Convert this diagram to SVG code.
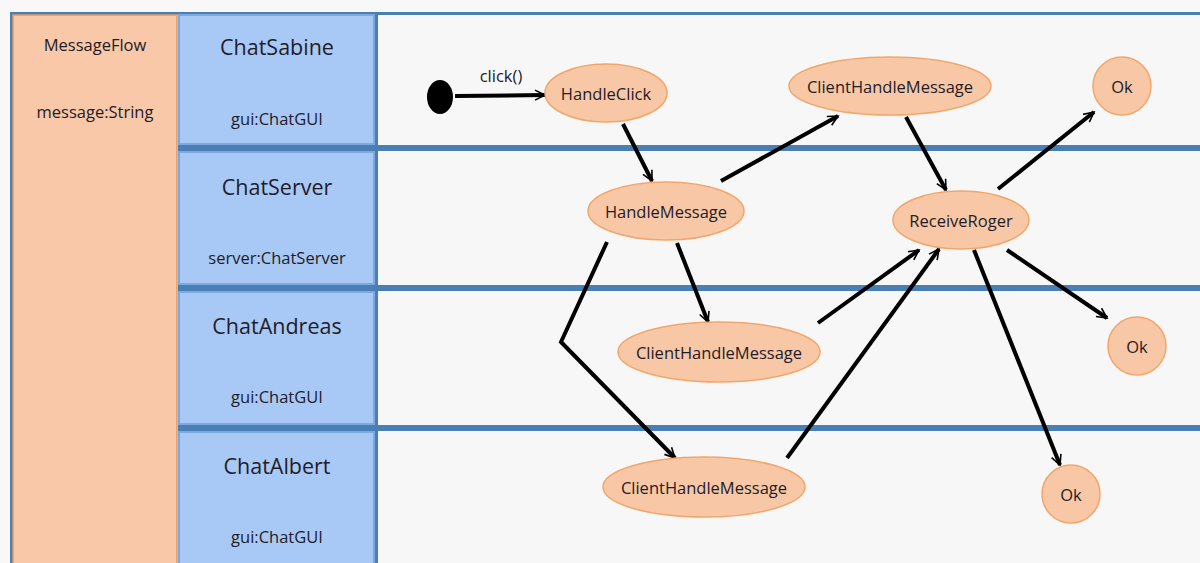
<svg xmlns="http://www.w3.org/2000/svg" width="1200" height="563" viewBox="0 0 1200 563">
<defs>
<style>
.lbl{font-family:"Open Sans","Noto Sans","Liberation Sans",sans-serif;fill:#231c28;text-anchor:middle;dominant-baseline:central}
.title{font-size:21.5px}
.sub{font-size:16.5px}
.nodeT{font-size:16.5px}
.node{fill:#f8c8a6;stroke:#f2a66a;stroke-width:1.5}
.hdr{fill:#a8c8f5;stroke:#7ea8e0;stroke-width:2}
.sep{fill:#4a7fb6}
.edge{fill:none;stroke:#000;stroke-width:4;marker-end:url(#arr)}
</style>
<marker id="arr" markerUnits="userSpaceOnUse" markerWidth="14" markerHeight="12" viewBox="0 0 14 12" refX="12" refY="6" orient="auto">
<path d="M2,1 L12,6 L2,11" fill="none" stroke="#000" stroke-width="1.6"/>
</marker>
</defs>
<rect x="0" y="0" width="1200" height="563" fill="#f8f8f8"/>
<g id="frame">
<rect x="378" y="15" width="822" height="548" fill="#f7f7f7"/>
<rect x="10" y="12" width="1190" height="3" class="sep"/>
<rect x="10" y="12" width="3" height="551" class="sep"/>
<rect x="375" y="12" width="3" height="551" class="sep"/>
<rect x="178" y="145" width="1022" height="6" class="sep"/>
<rect x="178" y="285" width="1022" height="6" class="sep"/>
<rect x="178" y="425" width="1022" height="6" class="sep"/>
</g>
<g id="classBox">
<rect x="13" y="15" width="164" height="560" fill="#f8c8a8" stroke="#e39a5e" stroke-width="1.5"/>
<text class="lbl sub" x="95" y="44">MessageFlow</text>
<text class="lbl sub" x="95" y="111">message:String</text>
</g>
<g id="laneSabine">
<rect class="hdr" x="179" y="15" width="195" height="129"/>
<text class="lbl title" x="277" y="46">ChatSabine</text>
<text class="lbl sub" x="277" y="118">gui:ChatGUI</text>
</g>
<g id="laneServer">
<rect class="hdr" x="179" y="152" width="195" height="132"/>
<text class="lbl title" x="277" y="186">ChatServer</text>
<text class="lbl sub" x="277" y="257">server:ChatServer</text>
</g>
<g id="laneAndreas">
<rect class="hdr" x="179" y="292" width="195" height="132"/>
<text class="lbl title" x="277" y="325">ChatAndreas</text>
<text class="lbl sub" x="277" y="396">gui:ChatGUI</text>
</g>
<g id="laneAlbert">
<rect class="hdr" x="179" y="432" width="195" height="140"/>
<text class="lbl title" x="277" y="465">ChatAlbert</text>
<text class="lbl sub" x="277" y="536">gui:ChatGUI</text>
</g>
<g id="connectors">
<line class="edge" x1="455" y1="96" x2="545" y2="95"/>
<text class="lbl sub" x="501" y="75">click()</text>
<line class="edge" x1="623" y1="124" x2="652" y2="181"/>
<line class="edge" x1="721" y1="181" x2="838" y2="116"/>
<line class="edge" x1="906" y1="117" x2="946" y2="190"/>
<line class="edge" x1="998" y1="189" x2="1094" y2="112"/>
<line class="edge" x1="677" y1="243" x2="708" y2="322"/>
<polyline class="edge" points="607,242 561,342 675,458"/>
<line class="edge" x1="818" y1="323" x2="919" y2="250"/>
<line class="edge" x1="787" y1="458" x2="939" y2="249"/>
<line class="edge" x1="1007" y1="250" x2="1107" y2="318"/>
<line class="edge" x1="974" y1="250" x2="1060" y2="465"/>
</g>
<g id="initial"><ellipse cx="440" cy="97" rx="13" ry="17" fill="#000"/></g>
<g id="handleClick"><ellipse class="node" cx="606" cy="93" rx="61" ry="29"/><text class="lbl nodeT" x="606" y="93">HandleClick</text></g>
<g id="handleMessage"><ellipse class="node" cx="666" cy="211" rx="78" ry="29"/><text class="lbl nodeT" x="666" y="211">HandleMessage</text></g>
<g id="clientHandleSabine"><ellipse class="node" cx="890" cy="86" rx="101" ry="29"/><text class="lbl nodeT" x="890" y="86">ClientHandleMessage</text></g>
<g id="okTop"><circle class="node" cx="1122" cy="86" r="29"/><text class="lbl nodeT" x="1122" y="86">Ok</text></g>
<g id="receiveRoger"><ellipse class="node" cx="961" cy="220" rx="68" ry="29"/><text class="lbl nodeT" x="961" y="220">ReceiveRoger</text></g>
<g id="clientHandleAndreas"><ellipse class="node" cx="719" cy="352" rx="101" ry="30"/><text class="lbl nodeT" x="719" y="352">ClientHandleMessage</text></g>
<g id="clientHandleAlbert"><ellipse class="node" cx="704" cy="487" rx="101" ry="30"/><text class="lbl nodeT" x="704" y="487">ClientHandleMessage</text></g>
<g id="okMid"><circle class="node" cx="1137" cy="346" r="29"/><text class="lbl nodeT" x="1137" y="346">Ok</text></g>
<g id="okBottom"><circle class="node" cx="1071" cy="494" r="29"/><text class="lbl nodeT" x="1071" y="494">Ok</text></g>
</svg>
